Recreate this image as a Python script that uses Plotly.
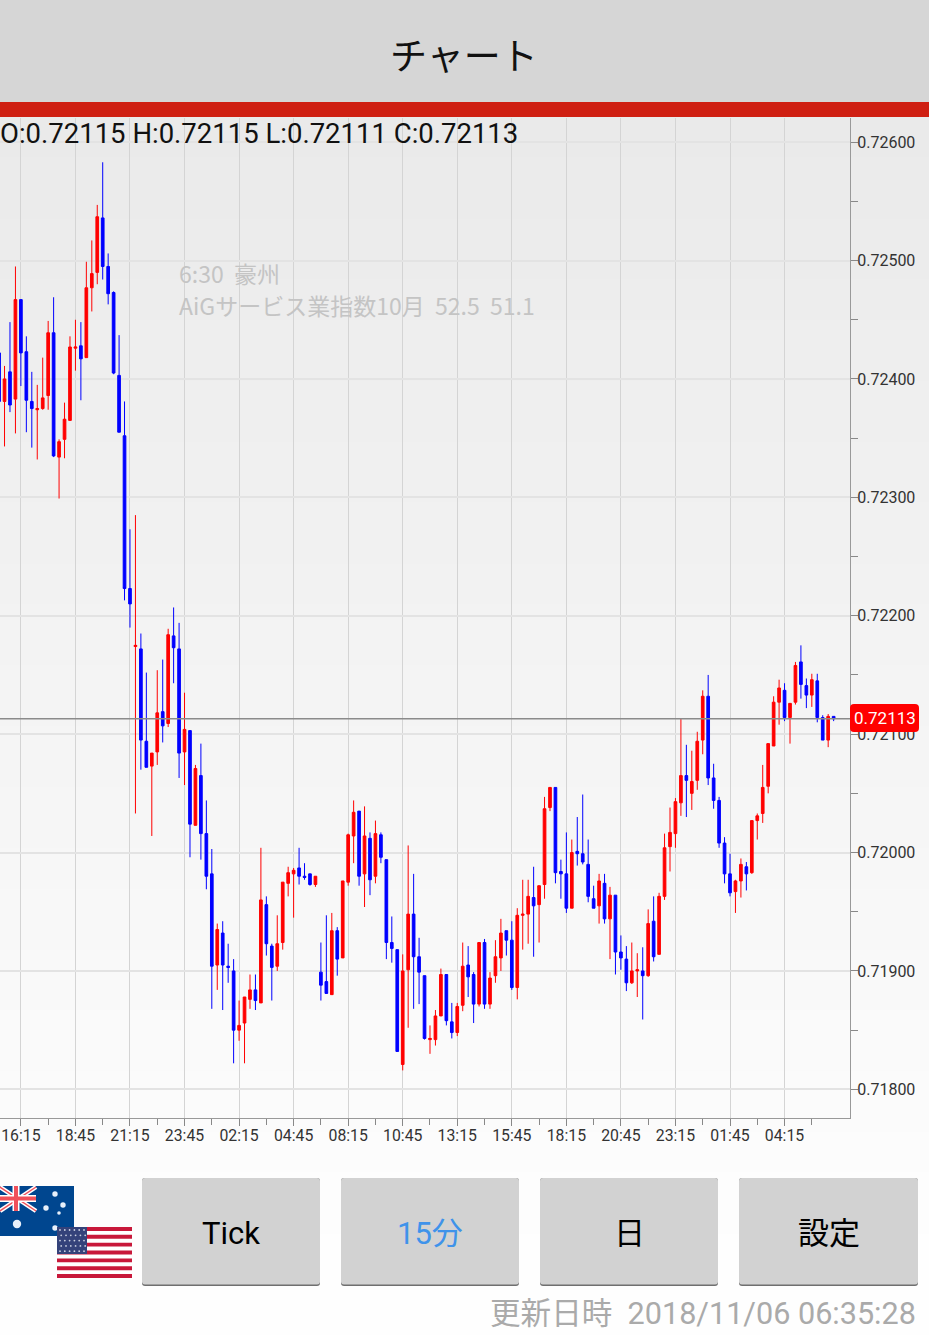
import plotly.graph_objects as go

# --- data (prices in 1e-5 units) ---
opens = [72422,72381,72406,72383,72467,72423,72381,72374,72375,72386,
72439,72334,72349,72365,72426,72428,72418,72477,72490,72536,
72495,72473,72403,72352,72223,72174,72172,72094,72073,72085,
72119,72109,72183,72172,72085,72103,72023,72065,72016,71982,
71905,71932,71904,71900,71850,71856,71876,71884,71873,71956,
71921,71904,71924,71974,71982,71987,71980,71982,71973,71899,
71891,71880,71934,71911,71975,72014,72035,71982,72012,71980,
72015,71994,71924,71918,71821,71901,71948,71912,71896,71842,
71842,71862,71897,71857,71848,71871,71905,71897,71872,71924,
71872,71896,71911,71934,71926,71886,71947,71948,71962,71956,
71973,72038,72055,71984,71982,71953,72001,71999,71990,71961,
71955,71974,71944,71964,71916,71910,71890,71900,71900,71896,
71942,71914,71963,72005,72016,72042,72065,72050,72061,72095,
72132,72063,72044,72008,71982,71967,71976,71988,71983,72027,
72033,72056,72090,72127,72137,72114,72127,72161,72141,72133,
72145,72114,72095,72115]
closes = [72381,72400,72378,72467,72422,72382,72375,72375,72384,72439,
72335,72347,72366,72427,72427,72417,72477,72489,72537,72495,
72472,72405,72355,72223,72210,72175,72095,72072,72084,72118,
72107,72184,72173,72084,72104,72024,72071,72016,71980,71904,
71935,71905,71903,71850,71854,71878,71884,71875,71960,71923,
71903,71923,71975,71983,71985,71980,71979,71973,71980,71888,
71881,71934,71910,71976,72015,72034,71980,72014,71977,72016,
71996,71924,71919,71832,71900,71948,71912,71899,71843,71843,
71862,71897,71858,71848,71870,71904,71895,71872,71924,71872,
71894,71912,71932,71926,71886,71947,71948,71963,71955,71972,
72037,72055,71983,71982,71953,72000,71999,71992,71963,71953,
71976,71944,71964,71916,71911,71890,71900,71901,71896,71940,
71912,71963,72004,72017,72043,72065,72061,72060,72094,72132,
72063,72044,72008,71982,71966,71976,71990,71982,72027,72031,
72055,72092,72127,72139,72114,72126,72158,72142,72133,72146,
72114,72095,72115,72113]
highs = [72423,72411,72448,72495,72467,72436,72406,72395,72418,72449,
72469,72349,72380,72436,72450,72448,72499,72517,72547,72583,
72506,72474,72437,72381,72273,72285,72185,72152,72084,72154,
72163,72189,72207,72194,72135,72103,72074,72092,72044,72003,
71940,71942,71923,71910,71875,71878,71897,71897,72004,71963,
71923,71947,71975,71988,71987,72004,71991,71982,71980,71924,
71947,71949,71937,71976,72016,72044,72035,72039,72017,72027,
72017,71994,71946,71918,71914,72006,71982,71928,71896,71854,
71867,71902,71897,71873,71873,71924,71921,71899,71924,71927,
71899,71926,71944,71934,71942,71953,71977,71977,71988,71972,
72047,72055,72055,71994,72017,72011,72030,72049,72011,71972,
71982,71982,71971,71964,71930,71921,71924,71915,71920,71952,
71963,71966,72016,72038,72046,72113,72091,72086,72102,72137,
72150,72075,72047,72013,71999,71977,71995,71992,72027,72033,
72074,72092,72132,72146,72143,72126,72161,72175,72147,72151,
72151,72116,72117,72115]
lows = [72370,72343,72372,72354,72394,72355,72342,72332,72374,72374,
72334,72299,72333,72365,72407,72382,72418,72457,72480,72484,
72463,72404,72355,72213,72190,72033,72070,72072,72014,72074,
72093,72106,72143,72063,72057,71996,72023,71994,71969,71868,
71884,71867,71890,71822,71841,71822,71868,71867,71873,71913,
71875,71900,71918,71963,71945,71973,71977,71972,71971,71875,
71881,71880,71896,71911,71972,71991,71972,71954,71964,71974,
71991,71910,71907,71832,71816,71852,71868,71872,71842,71830,
71837,71862,71854,71843,71845,71866,71878,71856,71870,71868,
71868,71890,71900,71913,71884,71876,71918,71923,71912,71924,
71961,72035,71974,71961,71949,71953,71989,71990,71958,71953,
71940,71940,71910,71897,71901,71883,71889,71878,71859,71895,
71908,71914,71960,71984,72004,72031,72030,72036,72053,72083,
72057,72037,72004,71974,71963,71949,71962,71968,71982,72011,
72025,72050,72090,72108,72111,72092,72125,72130,72122,72123,
72110,72095,72089,72111]
bar_index = list(range(-4, 150))
time_labels = ["16:15","18:45","21:15","23:45","02:15","04:45","08:15","10:45",
               "13:15","15:45","18:15","20:45","23:15","01:45","04:15"]
price_ticks = [0.718, 0.719, 0.720, 0.721, 0.722, 0.723, 0.724, 0.725, 0.726]
last_price = 0.72113
ohlc_text = "O:0.72115 H:0.72115 L:0.72111 C:0.72113"
note_lines = ["6:30  豪州", "AiGサービス業指数10月  52.5  51.1"]
button_labels = ["Tick", "15分", "日", "設定"]
updated_text = "更新日時  2018/11/06 06:35:28"

# --- layout helpers: pixel position in the window -> paper coordinates ---
W, H = 929, 1335
L_PX, R_PX, T_PX, B_PX = 0, 850, 118, 1118
def px(x): return (x - L_PX) / (R_PX - L_PX)
def py(y): return (B_PX - y) / (B_PX - T_PX)

shapes, notes = [], []
def rect(x0, y0, x1, y1, color, layer="below"):
    shapes.append(dict(type="rect", xref="paper", yref="paper", x0=px(x0), x1=px(x1),
                       y0=py(y0), y1=py(y1), fillcolor=color, line_width=0, layer=layer))
def rrect(x0, y0, x1, y1, r, color, layer="below"):
    p = lambda x, y: f"{px(x)},{py(y)}"
    path = (f"M{p(x0+r,y0)} L{p(x1-r,y0)} Q{p(x1,y0)} {p(x1,y0+r)} L{p(x1,y1-r)} "
            f"Q{p(x1,y1)} {p(x1-r,y1)} L{p(x0+r,y1)} Q{p(x0,y1)} {p(x0,y1-r)} L{p(x0,y0+r)} "
            f"Q{p(x0,y0)} {p(x0+r,y0)} Z")
    shapes.append(dict(type="path", xref="paper", yref="paper", path=path,
                       fillcolor=color, line_width=0, layer=layer))
def seg(x0, y0, x1, y1, color, w, layer="above"):
    shapes.append(dict(type="line", xref="paper", yref="paper", x0=px(x0), x1=px(x1),
                       y0=py(y0), y1=py(y1), line=dict(color=color, width=w), layer=layer))
def dot(x, y, r, color, layer="above"):
    shapes.append(dict(type="circle", xref="paper", yref="paper", x0=px(x-r), x1=px(x+r),
                       y0=py(y-r), y1=py(y+r), fillcolor=color, line_width=0, layer=layer))
def text(x, y, s, size, color, anchor="center", family="Roboto, 'Noto Sans CJK JP'"):
    notes.append(dict(xref="paper", yref="paper", x=px(x), y=py(y), text=s, showarrow=False,
                      xanchor=anchor, yanchor="middle", borderpad=0, borderwidth=0,
                      font=dict(size=size, color=color, family=family)))

# page background gradient
steps = 60
for k in range(steps):
    y0 = 117 + (H - 117) * k / steps
    y1 = 117 + (H - 117) * (k + 1) / steps + 1
    v = round(0xEA + (0xFE - 0xEA) * min(1.0, (k / (steps - 1)) * 1.05))
    rect(0, y0, W, y1, f"rgb({v},{v},{v})")

# header
rect(0, 0, W, 102, "#d6d6d6", "above")
rect(0, 102, W, 117, "#cf1f12", "above")
text(464, 53.5, "チャート", 37, "#111111", family="'Noto Sans CJK JP'")

# OHLC line and note
text(0, 133, ohlc_text, 27.5, "#111111", "left")
text(179, 273, note_lines[0], 23, "#c4c4c4", "left", "'Noto Sans CJK JP'")
text(179, 305, note_lines[1], 23, "#c4c4c4", "left", "'Noto Sans CJK JP'")

# buttons
btn_x = [(142, 320), (341, 519), (540, 718), (739, 918)]
btn_col = ["#000000", "#3f93ea", "#000000", "#000000"]
for (x0, x1), lab, c in zip(btn_x, button_labels, btn_col):
    rrect(x0, 1178, x1, 1286, 3, "#6f6f6f")
    rrect(x0, 1178, x1, 1284.5, 3, "#d2d2d2")
    text((x0 + x1) / 2, 1233, lab, 31, c)

# updated time
text(916, 1313, updated_text, 30.6, "#aaaaaa", "right")

# Australian flag
rect(0, 1186, 74, 1236, "#00468f", "above")
seg(0, 1187, 36, 1211, "#ffffff", 4.5); seg(36, 1187, 0, 1211, "#ffffff", 4.5)
seg(0, 1187, 36, 1211, "#f0505a", 1.5); seg(36, 1187, 0, 1211, "#f0505a", 1.5)
seg(16, 1186, 16, 1211, "#ffffff", 7); seg(0, 1198.5, 36, 1198.5, "#ffffff", 7)
seg(16, 1186, 16, 1211, "#f0505a", 4); seg(0, 1198.5, 36, 1198.5, "#f0505a", 4)
for sx, sy, sr in [(55, 1194, 2.7), (46, 1208, 2.7), (63, 1205, 2.7), (59, 1213, 1.8), (55, 1228, 2.7), (17, 1224, 4.2)]:
    dot(sx, sy, sr, "#e8f0fa")

# United States flag
rect(57, 1227, 132, 1278, "#ffffff", "above")
stripe = 51 / 13
for k in range(0, 13, 2):
    rect(57, 1227 + k * stripe, 132, 1227 + (k + 1) * stripe, "#c8183a", "above")
rect(57, 1227, 87, 1254, "#34427a", "above")
for row in range(5):
    for col in range(6):
        dot(60 + col * 4.8 + (row % 2) * 1.2, 1230 + row * 5.3, 0.9, "#c9cfe0")

# current price marker
shapes.append(dict(type="line", xref="paper", yref="y", x0=0, x1=1, y0=last_price, y1=last_price,
                   line=dict(color="#8a8a8a", width=1.5), layer="above"))
rrect(850, 704, 919, 732, 4, "#ff0000", "above")
text(885, 718, f"{last_price:.5f}", 17, "#ffffff")

fig = go.Figure(go.Candlestick(
    x=bar_index,
    open=[v / 1e5 for v in opens], high=[v / 1e5 for v in highs],
    low=[v / 1e5 for v in lows], close=[v / 1e5 for v in closes],
    increasing=dict(line=dict(color="#ff0000", width=1), fillcolor="#ff0000"),
    decreasing=dict(line=dict(color="#0000ff", width=1), fillcolor="#0000ff"),
    whiskerwidth=0, hoverinfo="skip", showlegend=False,
))

major = list(range(0, 150, 10))
minor = list(range(5, 150, 10))
fig.update_layout(
    width=W, height=H, margin=dict(l=L_PX, r=W - R_PX, t=T_PX, b=H - B_PX, autoexpand=False),
    paper_bgcolor="#ffffff", plot_bgcolor="rgba(0,0,0,0)", boxgap=0.3, showlegend=False,
    font=dict(family="Roboto", size=16, color="#333333"),
    shapes=shapes, annotations=notes,
    xaxis=dict(
        range=[-3.83, 152.0], rangeslider=dict(visible=False), tickmode="array", tickvals=major,
        ticktext=time_labels, ticks="outside", ticklen=7, tickwidth=1, tickcolor="#888888",
        showgrid=True, gridcolor="#d4d4d4", gridwidth=1.2, showline=True, linecolor="#999999",
        linewidth=1, zeroline=False, tickangle=0, ticklabelstandoff=-4,
        tickfont=dict(size=15.8, color="#333333"),
        minor=dict(tickmode="array", tickvals=minor, ticks="outside", ticklen=6, tickcolor="#888888", showgrid=False),
    ),
    yaxis=dict(
        range=[0.717758, 0.726204], side="right", tickmode="array", tickvals=price_ticks,
        ticktext=[f"{v:.5f}" for v in price_ticks], ticks="outside", ticklen=7, tickwidth=1,
        tickcolor="#888888", showgrid=True, gridcolor="#e3e3e3", gridwidth=1.5, showline=True,
        linecolor="#999999", linewidth=1, zeroline=False, ticklabelstandoff=-4,
        tickfont=dict(size=16, color="#333333"),
        minor=dict(tickmode="linear", tick0=0.7175, dtick=0.0005, ticks="outside", ticklen=7, tickcolor="#888888", showgrid=False),
    ),
)

fig.write_html("out.html", config=dict(displayModeBar=False),
               post_script="document.body.style.margin='0';document.body.style.overflow='hidden';")
